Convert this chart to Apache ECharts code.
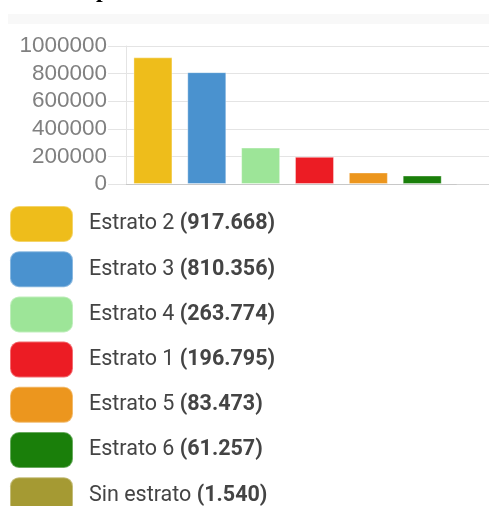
<!DOCTYPE html>
<html><head><meta charset="utf-8">
<script src="https://cdn.jsdelivr.net/npm/echarts@6/dist/echarts.min.js"></script>
<style>html,body{margin:0;padding:0;background:#fff;overflow:hidden}#c{width:510px;height:506px}</style>
</head><body><div id="c"></div>
<script>
const titleText = 'Personas por estrato';
const categories = ['Estrato 2','Estrato 3','Estrato 4','Estrato 1','Estrato 5','Estrato 6','Sin estrato'];
const values = [917668, 810356, 263774, 196795, 83473, 61257, 1540];
const colors = ['#EEBD1B','#4A92CF','#9DE598','#EC1C24','#EC961E','#1A7F0A','#A59A33'];
const yTicks = [0, 200000, 400000, 600000, 800000, 1000000];

function fmt(v){ return String(v).replace(/\B(?=(\d{3})+(?!\d))/g, '.'); }

const chart = echarts.init(document.getElementById('c'), null, {renderer:'canvas'});
const series = categories.map((name, i) => ({
  name: name,
  type: 'bar',
  data: categories.map((c, j) => j === i ? values[i] : '-'),
  barWidth: 39,
  barGap: '-100%',
  itemStyle: { color: colors[i], borderColor: 'rgba(255,255,255,0.35)', borderWidth: 1 },
  silent: true
}));
chart.setOption({
  animation: false,
  graphic: [
    { type: 'rect', shape: { x: 8, y: 14, width: 502, height: 10 }, style: { fill: '#f8f8f8' }, z: -1 },
    { type: 'text', x: -2, y: 3, style: { text: titleText, font: 'bold 24px "Liberation Serif"', fill: '#000', verticalAlign: 'bottom', align: 'left' } }
  ],
  grid: { left: 126, top: 46, height: 138, width: 377, containLabel: false },
  xAxis: {
    type: 'category', data: categories,
    axisLine: { show: true, lineStyle: { color: '#c8c8c8', width: 1 } },
    axisTick: { show: false }, axisLabel: { show: false },
    splitLine: { show: false }
  },
  yAxis: {
    type: 'value', min: 0, max: 1000000, interval: 200000,
    axisLine: { show: true, lineStyle: { color: '#e4e4e4' } },
    axisTick: { show: true, length: 18, lineStyle: { color: '#e4e4e4' } },
    splitLine: { show: true, lineStyle: { color: '#e4e4e4' } },
    axisLabel: { margin: 19, color: '#808080', fontSize: 22.5, fontFamily: 'Liberation Sans',
      formatter: v => yTicks.includes(v) ? String(v) : '' }
  },
  legend: {
    orient: 'vertical', left: 4, top: 200, height: 600, itemWidth: 63, itemHeight: 36, itemGap: 7.2,
    icon: 'roundRect', selectedMode: false,
    data: categories,
    formatter: name => name + ' {b|(' + fmt(values[categories.indexOf(name)]) + ')}',
    textStyle: { fontFamily: 'Roboto', fontSize: 21.5, color: '#444', padding: [0,0,0,11],
      rich: { b: { fontFamily: 'Roboto', fontSize: 21.5, fontWeight: 'bold', color: '#444' } } }
  },
  series: series
});
</script></body></html>
